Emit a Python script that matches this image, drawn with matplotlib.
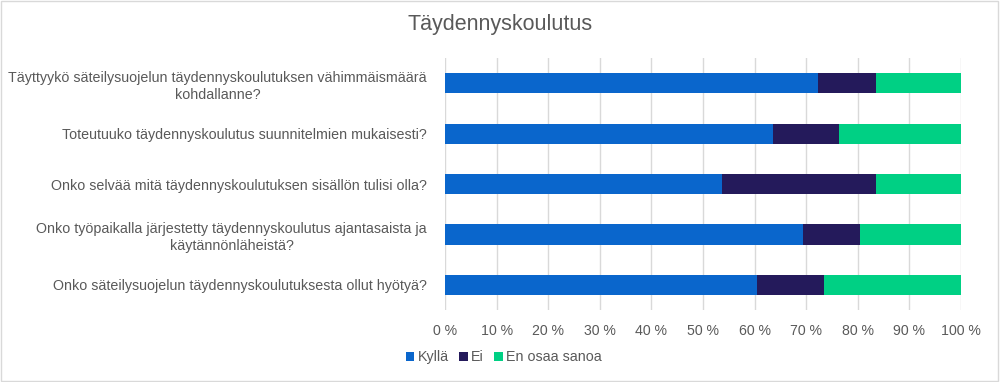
import matplotlib.pyplot as plt
from matplotlib.ticker import FuncFormatter

plt.rcParams['font.family'] = ['Liberation Sans', 'DejaVu Sans']

questions = [
    "Täyttyykö säteilysuojelun täydennyskoulutuksen vähimmäismäärä\nkohdallanne?",
    "Toteutuuko täydennyskoulutus suunnitelmien mukaisesti?",
    "Onko selvää mitä täydennyskoulutuksen sisällön tulisi olla?",
    "Onko työpaikalla järjestetty täydennyskoulutus ajantasaista ja\nkäytännönläheistä?",
    "Onko säteilysuojelun täydennyskoulutuksesta ollut hyötyä?",
]
kylla = [72.2, 63.5, 53.7, 69.3, 60.5]
ei = [11.4, 12.8, 29.9, 11.2, 13.0]
en_osaa = [16.4, 23.7, 16.4, 19.5, 26.5]

series_names = ["Kyllä", "Ei", "En osaa sanoa"]
colors = ["#0A66CC", "#241A5B", "#00D084"]

fig = plt.figure(figsize=(10, 3.82), dpi=100)
ax = fig.add_axes([0.445, 0.188, 0.516, 0.66])

ypos = list(range(len(questions)))[::-1]
left = [0] * len(questions)
for name, vals, col in zip(series_names, [kylla, ei, en_osaa], colors):
    ax.barh(ypos, vals, left=left, height=0.4, color=col, label=name, zorder=3)
    left = [a + b for a, b in zip(left, vals)]

ax.set_xlim(0, 100)
ax.set_ylim(-0.5, len(questions) - 0.5)
ax.set_xticks(range(0, 101, 10))
ax.xaxis.set_major_formatter(FuncFormatter(lambda v, p: f"{int(v)} %"))
ax.set_yticks(ypos)
ax.set_yticklabels(questions)
for lab in ax.get_yticklabels():
    lab.set_multialignment('center')
    lab.set_linespacing(1.3)
ax.tick_params(axis='y', length=0, labelsize=10.3, colors="#595959", pad=13)
ax.tick_params(axis='x', length=0, labelsize=10.2, colors="#595959", pad=10)
ax.grid(axis='x', color="#D9D9D9", linewidth=1, zorder=0)
for s in ax.spines.values():
    s.set_visible(False)

fig.text(0.5, 0.935, "Täydennyskoulutus", ha='center', va='center',
         fontsize=15.5, color="#595959")

leg = fig.legend(loc='center left', bbox_to_anchor=(0.393, 0.065), ncol=3,
                 frameon=False, fontsize=10.3, handlelength=0.6, handleheight=0.6,
                 handletextpad=0.25, columnspacing=0.7)
for t in leg.get_texts():
    t.set_color("#595959")

fig.patches.append(plt.Rectangle((0.001, 0.002), 0.997, 0.995, transform=fig.transFigure,
                                 fill=False, edgecolor="#D9D9D9", linewidth=1))

fig.savefig("out.png", dpi=100)
